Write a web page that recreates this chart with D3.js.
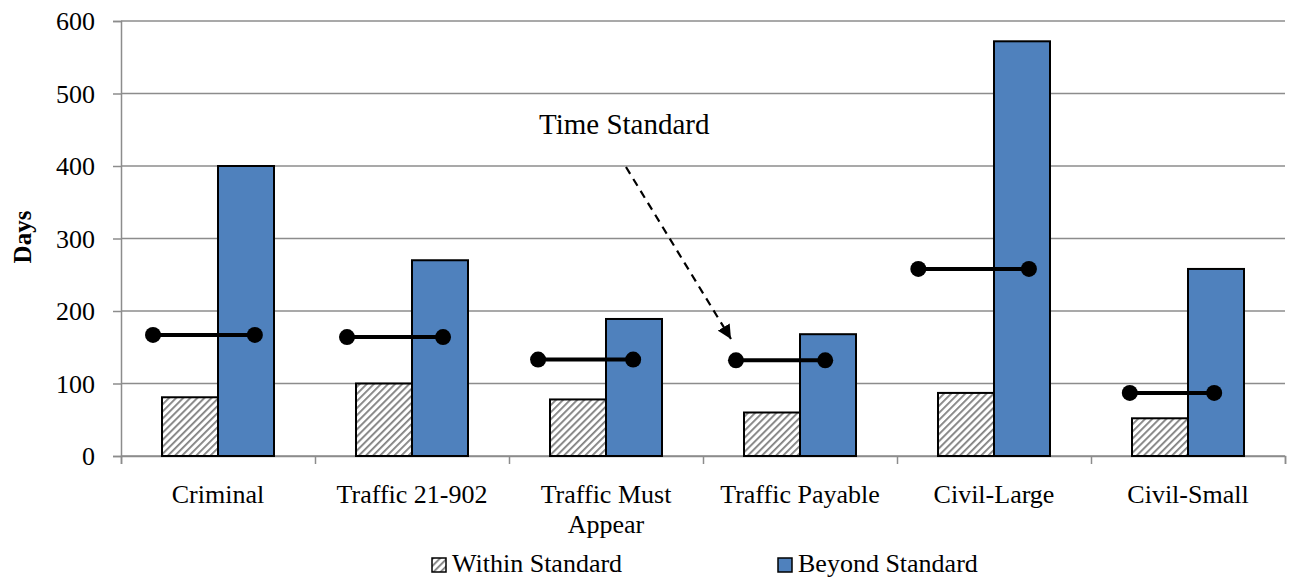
<!DOCTYPE html>
<html>
<head>
<meta charset="utf-8">
<script src="https://cdn.jsdelivr.net/npm/d3@7"></script>
<style>
  html, body { margin: 0; padding: 0; background: #fff; }
  svg { display: block; font-family: "Liberation Serif", "Times New Roman", serif; }
</style>
</head>
<body>
<svg id="chart" width="1290" height="580"></svg>
<script>
// ---- data ----
const categories = ["Criminal", "Traffic 21-902", "Traffic Must Appear", "Traffic Payable", "Civil-Large", "Civil-Small"];
const categoryLines = [["Criminal"], ["Traffic 21-902"], ["Traffic Must", "Appear"], ["Traffic Payable"], ["Civil-Large"], ["Civil-Small"]];
const withinStandard = [81, 100, 78, 60, 87, 52];
const beyondStandard = [400, 270, 189, 168, 572, 258];
const timeStandard = [167, 164, 133, 132, 258, 87];
// time-standard segment ends, on a continuous category axis (0..6)
const stdStart = [0.165, 1.165, 2.150, 3.170, 4.110, 5.200];
const stdEnd   = [0.690, 1.660, 2.640, 3.630, 4.680, 5.635];
const yTicks = [0, 100, 200, 300, 400, 500, 600];
const seriesNames = ["Within Standard", "Beyond Standard"];

// ---- layout ----
const FONT = "Liberation Serif, Times New Roman, serif";
const svg = d3.select("#chart");
const L = 121, R = 1285, T = 21, B = 456;

const x = d3.scaleBand().domain(categories).range([L, R]).paddingInner(0).paddingOuter(0);
const xc = d3.scaleLinear().domain([0, categories.length]).range([L, R]);
const y = d3.scaleLinear().domain([0, 600]).range([B, T]);
const barW = 56;

// hatch pattern
const defs = svg.append("defs");
const pat = defs.append("pattern")
  .attr("id", "hatch").attr("patternUnits", "userSpaceOnUse")
  .attr("width", 5).attr("height", 5)
  .attr("patternTransform", "rotate(45)");
pat.append("rect").attr("width", 5).attr("height", 5).attr("fill", "#fff");
pat.append("rect").attr("x", 0).attr("y", 0).attr("width", 1.8).attr("height", 5).attr("fill", "#808080");

// gridlines
svg.append("g").selectAll("line").data(yTicks).join("line")
  .attr("x1", L).attr("x2", R)
  .attr("y1", d => y(d)).attr("y2", d => y(d))
  .attr("stroke", "#8c8c8c").attr("stroke-width", 1.5);

// y axis
const yAxis = svg.append("g").attr("transform", `translate(${L},0)`)
  .call(d3.axisLeft(y).tickValues(yTicks).tickSize(8).tickPadding(18));
yAxis.attr("font-family", FONT).attr("font-size", 26);
yAxis.select(".domain").attr("stroke", "#8c8c8c").attr("stroke-width", 1.5);
yAxis.selectAll(".tick line").attr("stroke", "#8c8c8c").attr("stroke-width", 1.5);
yAxis.selectAll(".tick text").attr("fill", "#000").attr("dy", "0.34em");

// x axis
const xAxis = svg.append("g").attr("transform", `translate(0,${B})`)
  .call(d3.axisBottom(xc).tickValues(d3.range(0, categories.length + 1)).tickSize(8).tickFormat(""));
xAxis.select(".domain").attr("stroke", "#8c8c8c").attr("stroke-width", 1.5);
xAxis.selectAll(".tick line").attr("stroke", "#8c8c8c").attr("stroke-width", 1.5);

// category labels
const lab = svg.append("g").selectAll("text").data(categories).join("text")
  .attr("x", d => x(d) + x.bandwidth() / 2)
  .attr("y", 503)
  .attr("text-anchor", "middle")
  .attr("font-size", 26).attr("fill", "#000");
lab.each(function(d, i) {
  const t = d3.select(this);
  categoryLines[i].forEach((ln, j) => {
    t.append("tspan").attr("x", x(d) + x.bandwidth() / 2).attr("dy", j === 0 ? 0 : 30).text(ln);
  });
});

// bars
const g = svg.append("g");
g.selectAll("rect.within").data(categories).join("rect")
  .attr("class", "within")
  .attr("x", d => x(d) + x.bandwidth() / 2 - barW)
  .attr("width", barW)
  .attr("y", (d, i) => y(withinStandard[i]))
  .attr("height", (d, i) => B - y(withinStandard[i]))
  .attr("fill", "url(#hatch)").attr("stroke", "#000").attr("stroke-width", 2);
g.selectAll("rect.beyond").data(categories).join("rect")
  .attr("class", "beyond")
  .attr("x", d => x(d) + x.bandwidth() / 2)
  .attr("width", barW)
  .attr("y", (d, i) => y(beyondStandard[i]))
  .attr("height", (d, i) => B - y(beyondStandard[i]))
  .attr("fill", "#4f81bd").attr("stroke", "#000").attr("stroke-width", 2);

// time standard segments
const s = svg.append("g");
s.selectAll("line").data(timeStandard).join("line")
  .attr("x1", (d, i) => xc(stdStart[i])).attr("x2", (d, i) => xc(stdEnd[i]))
  .attr("y1", d => y(d)).attr("y2", d => y(d))
  .attr("stroke", "#000").attr("stroke-width", 4);
s.selectAll("circle.a").data(timeStandard).join("circle").attr("class", "a")
  .attr("cx", (d, i) => xc(stdStart[i])).attr("cy", d => y(d)).attr("r", 8).attr("fill", "#000");
s.selectAll("circle.b").data(timeStandard).join("circle").attr("class", "b")
  .attr("cx", (d, i) => xc(stdEnd[i])).attr("cy", d => y(d)).attr("r", 8).attr("fill", "#000");

// annotation
svg.append("text").attr("x", 539).attr("y", 134).attr("font-size", 29).attr("fill", "#000").text("Time Standard");
defs.append("marker").attr("id", "arrow").attr("viewBox", "0 0 10 10")
  .attr("refX", 10).attr("refY", 5).attr("markerWidth", 14).attr("markerHeight", 14)
  .attr("markerUnits", "userSpaceOnUse").attr("orient", "auto")
  .append("path").attr("d", "M0,0 L10,5 L0,10 Z").attr("fill", "#000");
svg.append("line").attr("x1", 626).attr("y1", 167).attr("x2", 731).attr("y2", 339)
  .attr("stroke", "#000").attr("stroke-width", 2.2).attr("stroke-dasharray", "8,6")
  .attr("marker-end", "url(#arrow)");

// y title
svg.append("text").attr("transform", "translate(31,237) rotate(-90)")
  .attr("text-anchor", "middle").attr("font-size", 25).attr("font-weight", "bold").text("Days");

// legend
const legX = [432, 778];
const leg = svg.append("g").selectAll("g").data(seriesNames).join("g")
  .attr("transform", (d, i) => `translate(${legX[i]},558)`);
leg.append("rect").attr("width", 14).attr("height", 14)
  .attr("fill", (d, i) => i === 0 ? "url(#hatch)" : "#4f81bd")
  .attr("stroke", "#000").attr("stroke-width", 1.5);
leg.append("text").attr("x", 20).attr("y", 14).attr("font-size", 26).attr("fill", "#000").text(d => d);
</script>
</body>
</html>
